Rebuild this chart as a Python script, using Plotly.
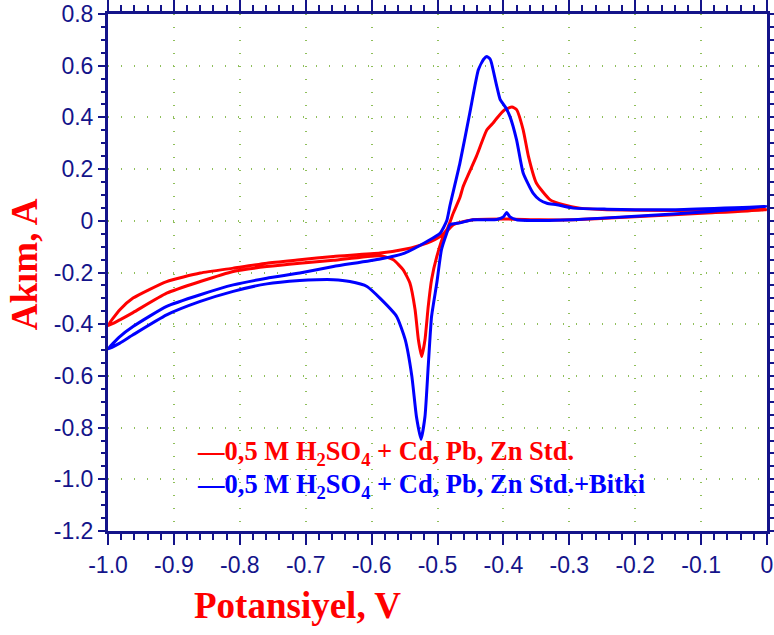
import plotly.graph_objects as go

# Red: 0,5 M H2SO4 + Cd, Pb, Zn Std.  (anodic sweep then return sweep)
red_x = [-1.0, -0.982, -0.962, -0.911, -0.86, -0.81, -0.759, -0.709, -0.658, -0.587, -0.55, -0.516,
         -0.496, -0.486, -0.476, -0.466, -0.461, -0.441, -0.425, -0.415, -0.41, -0.398, -0.387, -0.38,
         -0.37, -0.362, -0.35, -0.329, -0.309, -0.284, -0.243, -0.142, 0.0,
         -0.091, -0.193, -0.294, -0.345, -0.40, -0.446, -0.476, -0.491, -0.501, -0.509, -0.514, -0.519,
         -0.524, -0.529, -0.534, -0.542, -0.552, -0.567, -0.587, -0.658, -0.709, -0.759, -0.81, -0.86,
         -0.911, -0.962, -0.982, -1.0]
red_y = [-0.406, -0.344, -0.299, -0.235, -0.202, -0.183, -0.164, -0.151, -0.138, -0.125, -0.11, -0.086,
         -0.061, -0.035, 0.03, 0.09, 0.133, 0.249, 0.352, 0.38, 0.397, 0.43, 0.44, 0.43,
         0.352, 0.249, 0.146, 0.081, 0.062, 0.049, 0.043, 0.04, 0.043,
         0.03, 0.017, 0.004, 0.004, 0.007, 0.004, -0.015, -0.06, -0.138, -0.228, -0.33, -0.46,
         -0.525, -0.46, -0.344, -0.24, -0.19, -0.151, -0.135, -0.153, -0.164, -0.177, -0.196, -0.235,
         -0.28, -0.355, -0.383, -0.406]

# Blue: 0,5 M H2SO4 + Cd, Pb, Zn Std.+Bitki
blue_x = [-1.0, -0.982, -0.962, -0.911, -0.86, -0.81, -0.759, -0.709, -0.658, -0.587, -0.55, -0.516,
          -0.496, -0.486, -0.481, -0.466, -0.451, -0.438, -0.43, -0.425, -0.42, -0.418, -0.41, -0.405,
          -0.397, -0.39, -0.38, -0.37, -0.355, -0.345, -0.334, -0.319, -0.294, -0.243, -0.142, 0.0,
          -0.091, -0.193, -0.294, -0.345, -0.38, -0.39, -0.395, -0.40, -0.41, -0.446, -0.466, -0.481,
          -0.486, -0.494, -0.501, -0.509, -0.514, -0.519, -0.525, -0.532, -0.539, -0.549, -0.562, -0.587,
          -0.607, -0.633, -0.658, -0.683, -0.709, -0.759, -0.81, -0.86, -0.911, -0.962, -0.982, -1.0]
blue_y = [-0.496, -0.448, -0.409, -0.331, -0.286, -0.248, -0.222, -0.202, -0.177, -0.148, -0.125, -0.08,
          -0.048, 0.0, 0.06, 0.223, 0.417, 0.584, 0.625, 0.636, 0.625, 0.61, 0.52, 0.47,
          0.44, 0.403, 0.313, 0.185, 0.107, 0.081, 0.068, 0.062, 0.049, 0.045, 0.043, 0.055,
          0.035, 0.019, 0.004, 0.001, 0.004, 0.015, 0.032, 0.015, 0.005, 0.004, -0.008, -0.015,
          -0.048, -0.112, -0.24, -0.37, -0.56, -0.757, -0.845, -0.757, -0.60, -0.46, -0.37, -0.30,
          -0.254, -0.235, -0.228, -0.228, -0.231, -0.244, -0.273, -0.312, -0.364, -0.441, -0.473, -0.496]

x_tickvals = [-1.0, -0.9, -0.8, -0.7, -0.6, -0.5, -0.4, -0.3, -0.2, -0.1, 0.0]
x_ticktext = ["-1.0", "-0.9", "-0.8", "-0.7", "-0.6", "-0.5", "-0.4", "-0.3", "-0.2", "-0.1", "0"]
y_tickvals = [0.8, 0.6, 0.4, 0.2, 0.0, -0.2, -0.4, -0.6, -0.8, -1.0, -1.2]
y_ticktext = ["0.8", "0.6", "0.4", "0.2", "0", "-0.2", "-0.4", "-0.6", "-0.8", "-1.0", "-1.2"]

legend_red = "—0,5 M H<sub>2</sub>SO<sub>4</sub> + Cd, Pb, Zn Std."
legend_blue = "—0,5 M H<sub>2</sub>SO<sub>4</sub> + Cd, Pb, Zn Std.+Bitki"
x_title = "Potansiyel, V"
y_title = "Akım, A"

navy = "#14148a"
grid = "#8fbf5a"
tickfont = dict(family="Liberation Sans Narrow, Liberation Sans, Arial", size=23, color=navy)
serif = "Liberation Serif, Times New Roman, serif"

fig = go.Figure()
fig.add_trace(go.Scatter(x=red_x, y=red_y, mode="lines",
                         line=dict(color="#ff0000", width=3, shape="spline", smoothing=0.5),
                         showlegend=False))
fig.add_trace(go.Scatter(x=blue_x, y=blue_y, mode="lines",
                         line=dict(color="#0000ff", width=3, shape="spline", smoothing=0.5),
                         showlegend=False))

axis_common = dict(showline=True, linecolor=navy, linewidth=3, mirror="ticks",
                   ticks="outside", tickcolor=navy, tickwidth=2, zeroline=False,
                   showgrid=True, gridcolor=grid, gridwidth=2, griddash="1px,12px",
                   tickfont=tickfont, automargin=False)

fig.update_xaxes(range=[-1.0, 0.0], tickmode="array", tickvals=x_tickvals, ticktext=x_ticktext,
                 ticklen=11,
                 minor=dict(dtick=0.02, tick0=-1.0, ticklen=6, tickcolor=navy, tickwidth=2,
                            ticks="outside", showgrid=False),
                 **axis_common)
fig.update_yaxes(range=[-1.2, 0.8], tickmode="array", tickvals=y_tickvals, ticktext=y_ticktext,
                 ticklen=7,
                 minor=dict(dtick=0.05, tick0=0.0, ticklen=4, tickcolor=navy, tickwidth=2,
                            ticks="outside", showgrid=False),
                 **axis_common)

fig.add_annotation(text=x_title, xref="paper", yref="paper", x=0.2883, y=-0.145,
                   xanchor="center", yanchor="middle", showarrow=False,
                   font=dict(family=serif, size=37, color="#ff0000", weight="bold"))
fig.add_annotation(text=y_title, xref="paper", yref="paper", x=-0.1275, y=0.516,
                   xanchor="center", yanchor="middle", showarrow=False, textangle=-90,
                   font=dict(family=serif, size=37, color="#ff0000", weight="bold"))
fig.add_annotation(text=legend_red, xref="paper", yref="paper", x=0.132, y=0.151,
                   xanchor="left", yanchor="middle", showarrow=False,
                   font=dict(family=serif, size=26.5, color="#ff0000", weight="bold"))
fig.add_annotation(text=legend_blue, xref="paper", yref="paper", x=0.132, y=0.087,
                   xanchor="left", yanchor="middle", showarrow=False,
                   font=dict(family=serif, size=26.5, color="#0000ff", weight="bold"))

fig.update_layout(width=774, height=635, margin=dict(l=108, r=7, t=14, b=104),
                  paper_bgcolor="white", plot_bgcolor="white", showlegend=False)

# remove the default 8px page margin so the figure fills the 774x635 window exactly
fig.write_html("out.html", config={"displayModeBar": False},
               post_script="document.body.style.margin='0';document.body.style.overflow='hidden';")
